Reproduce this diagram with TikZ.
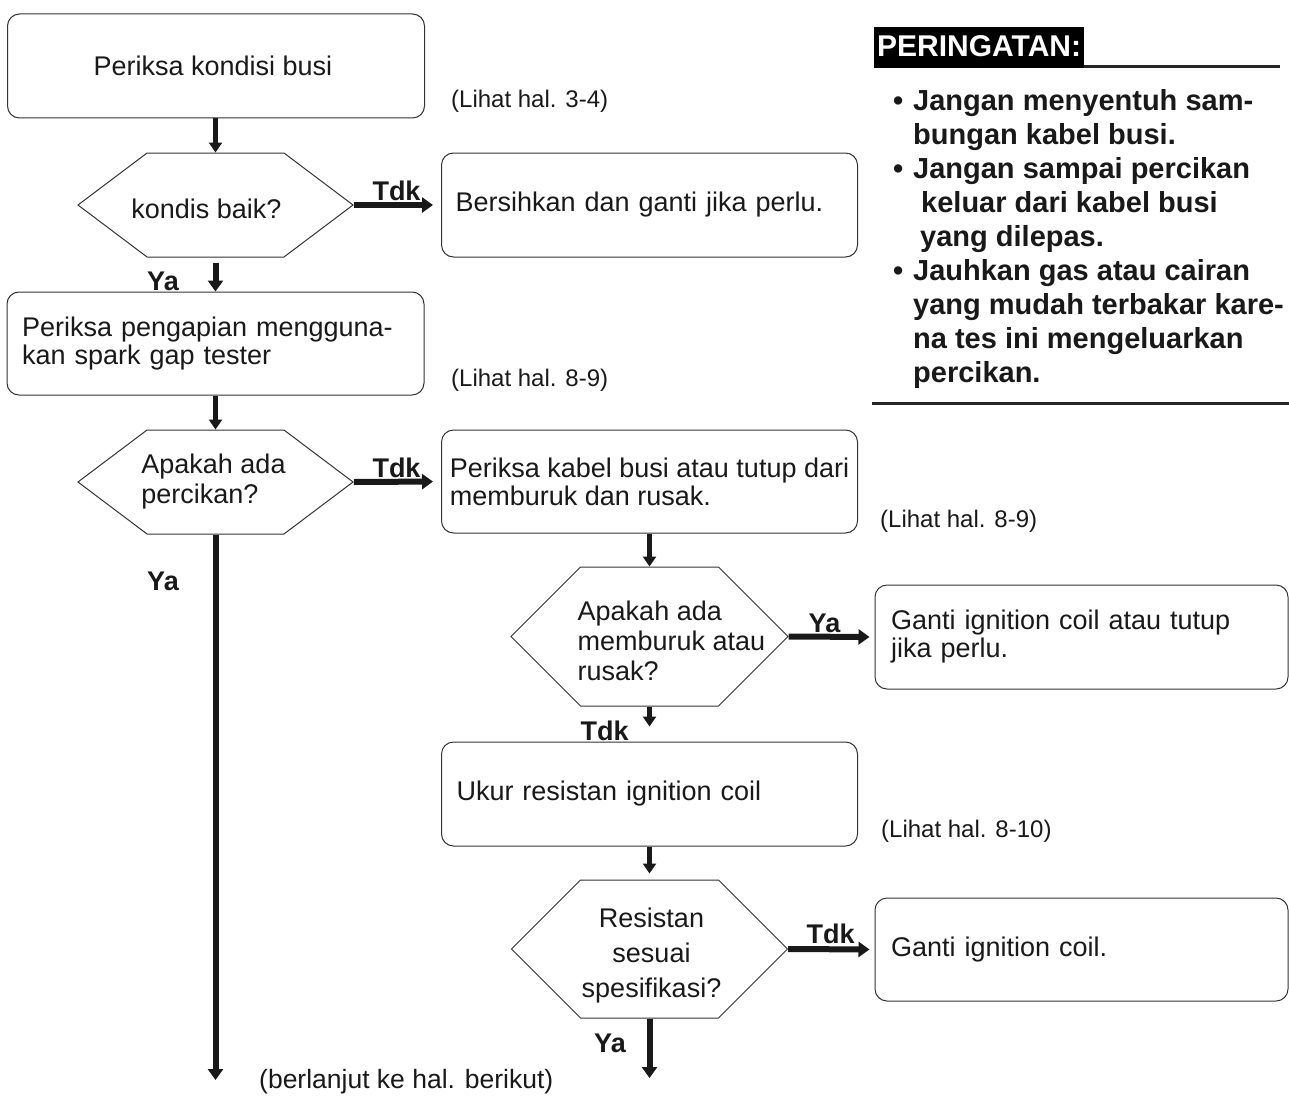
\documentclass[tikz,border=0pt]{standalone}
\usepackage{fontspec}
\setmainfont{Liberation Sans}
\usetikzlibrary{shapes.symbols,arrows.meta}

\begin{document}
\begin{tikzpicture}[x=1pt,y=-1pt,
  box/.style={draw=black!80, line width=1pt, rounded corners=12pt,
    minimum height=104pt, align=left, text=black!90,
    font=\fontsize{27}{28}\selectfont},
  hexa/.style={draw=black!80, line width=1pt, signal, signal to=west and east,
    inner sep=0pt, minimum width=275pt, minimum height=104pt,
    signal pointer angle=74},
  hextext/.style={align=left, text=black!90, font=\fontsize{27}{30}\selectfont},
  note/.style={anchor=base west, inner sep=0pt, text=black!90,
    font=\fontsize{24}{26}\selectfont},
  lbl/.style={anchor=base, inner sep=0pt, text=black!90,
    font=\fontsize{27}{28}\selectfont\bfseries},
  flow/.style={draw=black!90, line width=4.5pt, -{Triangle[length=10pt,width=13pt]}},
  yes/.style={draw=black!90, line width=6pt, -{Triangle[length=11pt,width=15pt]}},
]
\useasboundingbox (0,0) rectangle (1289,1097);

%% left column
\node[box, align=center, minimum width=417pt] (busi) at (216,66) {Periksa kondisi busi\hspace*{6pt}};
\node[hexa, label={[hextext, xshift=-9pt, yshift=-4pt]center:kondis baik?}] (baik) at (215.5,205) {};
\node[box, inner xsep=14pt, text width=388pt] (bersih) at (649.5,205) {Bersihkan dan ganti jika perlu.};
\node[box, inner xsep=15pt, text width=387pt, minimum height=103pt] (tester) at (215.5,343.5)
  {Periksa pengapian mengguna-\\kan spark gap tester};
\node[hexa, label={[hextext, xshift=-2pt]center:Apakah ada\\percikan?}] (percik) at (215.5,482) {};
\node[box, inner xsep=0pt, minimum width=416pt, minimum height=103pt] (kabel) at (649.5,481.5)
  {Periksa kabel busi atau tutup dari\\memburuk dan rusak.};

%% right column
\node[hexa, minimum width=277pt, minimum height=139pt, signal pointer angle=90,
  label={[hextext, xshift=22pt, yshift=-4pt]center:Apakah ada\\memburuk atau\\rusak?}] (buruk) at (649.5,636.5) {};
\node[box, inner xsep=16pt, text width=381pt] (gantitutup) at (1081.5,637)
  {Ganti ignition coil atau tutup\\jika perlu.};
\node[box, inner xsep=15pt, text width=386pt] (ukur) at (649.5,794) {Ukur resistan ignition coil};
\node[hexa, minimum width=276pt, minimum height=138pt, signal pointer angle=90,
  label={[hextext, align=center, xshift=2pt, yshift=-7pt, font=\fontsize{27}{35}\selectfont]center:Resistan\\sesuai\\spesifikasi?}] (spek) at (649.5,949) {};
\node[box, inner xsep=16pt, text width=381pt, minimum height=103pt] (gantikoil) at (1081.5,949.5)
  {Ganti ignition coil.};

\coordinate (lanjutA) at (215.5,1080);
\coordinate (lanjutB) at (649.5,1078);

%% notes
\node[note] (lihat1) at (451,107) {(Lihat hal. 3-4)};
\node[note] (lihat2) at (451,386) {(Lihat hal. 8-9)};
\node[note] (lihat3) at (880,527) {(Lihat hal. 8-9)};
\node[note] (lihat4) at (881,837) {(Lihat hal. 8-10)};
\node[note, font=\fontsize{26.5}{28}\selectfont] (lanjut) at (259,1088) {(berlanjut ke hal. berikut)};

%% answers
\node[lbl] (tdk1) at (396.5,200) {Tdk};
\node[lbl] (ya1) at (163,290) {Ya};
\node[lbl] (tdk2) at (396.5,477) {Tdk};
\node[lbl] (ya2) at (163,590) {Ya};
\node[lbl] (ya3) at (824.5,632) {Ya};
\node[lbl] (tdk3) at (604.5,740) {Tdk};
\node[lbl] (tdk4) at (830.5,943) {Tdk};
\node[lbl] (ya4) at (610,1052) {Ya};

%%% edges
\draw[flow] (busi.south -| baik.north) -- (baik.north);
\draw[yes, shorten >=8pt] (baik.east) -- (bersih.west);
\draw[yes, shorten <=5pt] (baik.south) -- (tester.north);
\draw[flow] (tester.south) -- (percik.north);
\draw[yes, shorten >=8pt] (percik.east) -- (kabel.west);
\draw[yes] (percik.south) -- (lanjutA);
\draw[flow] (kabel.south) -- (buruk.north);
\draw[yes, shorten >=5pt] (buruk.east) -- (gantitutup.west);
\draw[flow, shorten >=15pt] (buruk.south) -- (ukur.north);
\draw[flow, shorten >=6pt] (ukur.south) -- (spek.north);
\draw[yes, shorten >=5pt] (spek.east) -- (gantikoil.west);
\draw[yes] (spek.south) -- (lanjutB);

%% warning
\node[anchor=south west, fill=black, text=white, inner xsep=3pt, inner ysep=0pt,
  text height=30pt, text depth=11pt, font=\fontsize{30}{32}\selectfont\bfseries]
  (awas) at (874,68) {PERINGATAN:};
\draw[line width=3pt, black!85] ([yshift=1.5pt]awas.south east) -- ++(196,0);
\node[anchor=north west, inner sep=0pt, align=left, text=black!90,
  font=\fontsize{29}{34}\selectfont\bfseries] (pesan) at (913,89)
  {\llap{\textbullet\hspace{10pt}}Jangan menyentuh sam-\\
   bungan kabel busi.\\
   \llap{\textbullet\hspace{10pt}}Jangan sampai percikan\\
   \hspace*{8pt}keluar dari kabel busi\\
   \hspace*{7pt}yang dilepas.\\
   \llap{\textbullet\hspace{10pt}}Jauhkan gas atau cairan\\
   yang mudah terbakar kare-\\
   na tes ini mengeluarkan\\
   percikan.};
\draw[line width=3pt, black!85] (872,403) -- (1289,403);
\end{tikzpicture}
\end{document}
